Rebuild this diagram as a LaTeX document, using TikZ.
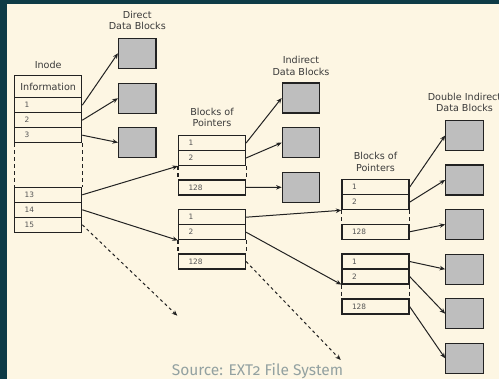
\documentclass[tikz,border=0pt]{standalone}
\usepackage{fontspec}
\usetikzlibrary{arrows.meta}
\newfontfamily\diagfont{DejaVu Sans}
\newfontfamily\captionfont[Numbers=OldStyle]{Fira Sans}
\definecolor{frame}{HTML}{0E3B46}
\definecolor{paper}{HTML}{FDF6E3}
\definecolor{ink}{HTML}{222222}
\definecolor{textink}{HTML}{3A3A3A}
\definecolor{numink}{HTML}{555555}
\definecolor{blockfill}{HTML}{BEBEBE}
\definecolor{srcink}{HTML}{93A1A1}
\begin{document}
\begin{tikzpicture}[x=1pt,y=-1pt,
  cell/.style={draw=ink, line width=1.2pt, minimum width=67pt, minimum height=15pt,
    inner xsep=10pt, inner ysep=0pt, text width=47pt, align=left,
    font=\diagfont\fontsize{7.4}{8}\selectfont, text=numink},
  infocell/.style={draw=ink, line width=1.2pt, minimum width=67pt, minimum height=22pt,
    inner sep=0pt, font=\diagfont\fontsize{9.6}{11.5}\selectfont, text=textink},
  datablock/.style={draw=ink, fill=blockfill, line width=1.2pt,
    minimum width=37.5pt, minimum height=30pt, inner sep=0pt},
  heading/.style={align=center, font=\diagfont\fontsize{9.6}{11.5}\selectfont,
    text=textink, inner sep=0pt},
  ptr/.style={draw=ink, line width=1pt, -{Stealth[length=5.5pt,width=4.5pt]}},
  gap/.style={draw=ink, line width=1.2pt, dash pattern=on 4pt off 3pt},
  openptr/.style={ptr, dash pattern=on 3pt off 3pt}
]
% page and frame
\fill[frame] (0,0) rectangle (499,379);
\fill[paper] (7,4) rectangle (499,379);
\useasboundingbox (0,0) rectangle (499,379);

% inode
\node[heading] (inodelbl) at (48.2,65) {Inode};
\node[infocell] (info) at (48.2,86.7) {Information};
\node[cell] (i1) at (48.2,105.2) {1};
\node[cell] (i2) at (48.2,120.2) {2};
\node[cell] (i3) at (48.2,135.2) {3};
\node[cell] (i13) at (48.2,194.8) {13};
\node[cell] (i14) at (48.2,209.8) {14};
\node[cell] (i15) at (48.2,224.8) {15};
\draw[gap] (i3.south west) -- (i13.north west);
\draw[gap] (i3.south east) -- (i13.north east);

% direct data blocks
\node[heading] (dirlbl) at (137.3,20.5) {Direct\\Data Blocks};
\node[datablock] (d1) at (137.3,53.3) {};
\node[datablock] (d2) at (137.3,98.3) {};
\node[datablock] (d3) at (137.3,142.5) {};

% single indirect: block of pointers
\node[heading] (bop1lbl) at (212,117.5) {Blocks of\\Pointers};
\node[cell] (a1) at (212,143) {1};
\node[cell] (a2) at (212,158) {2};
\node[cell] (a128) at (212,187.5) {128};
\draw[gap] (a2.south west) -- (a128.north west);
\draw[gap] (a2.south east) -- (a128.north east);

% double indirect: first-level block of pointers
\node[cell] (b1) at (212,217.2) {1};
\node[cell] (b2) at (212,232.2) {2};
\node[cell] (b128) at (212,261.5) {128};
\draw[gap] (b2.south west) -- (b128.north west);
\draw[gap] (b2.south east) -- (b128.north east);

% indirect data blocks
\node[heading] (indlbl) at (301,66) {Indirect\\Data Blocks};
\node[datablock] (n1) at (301,98) {};
\node[datablock] (n2) at (301,142.7) {};
\node[datablock] (n3) at (301,187.3) {};

% second-level blocks of pointers
\node[heading] (bop2lbl) at (375.5,162) {Blocks of\\Pointers};
\node[cell] (c1) at (375.5,187.2) {1};
\node[cell] (c2) at (375.5,202.2) {2};
\node[cell] (c128) at (375.5,231.8) {128};
\draw[gap] (c2.south west) -- (c128.north west);
\draw[gap] (c2.south east) -- (c128.north east);
\node[cell] (e1) at (375.5,261.5) {1};
\node[cell] (e2) at (375.5,276.5) {2};
\node[cell] (e128) at (375.5,306.5) {128};
\draw[gap] (e2.south west) -- (e128.north west);
\draw[gap] (e2.south east) -- (e128.north east);

% double indirect data blocks
\node[heading] (dbllbl) at (464.5,102.3) {Double Indirect\\Data Blocks};
\node[datablock] (m1) at (464.5,135.5) {};
\node[datablock] (m2) at (464.5,180) {};
\node[datablock] (m3) at (464.5,224.5) {};
\node[datablock] (m4) at (464.5,269.2) {};
\node[datablock] (m5) at (464.5,313.7) {};
\node[datablock] (m6) at (464.5,358.3) {};

% pointers
\draw[ptr] (i1.east) -- (d1.west);
\draw[ptr] (i2.east) -- (d2.west);
\draw[ptr] (i3.east) -- (d3.west);
\draw[ptr] (i13.east) -- (a2.south west);
\draw[ptr] (i14.east) -- (b2.south west);
\draw[ptr] (a1.east) -- (n1.west);
\draw[ptr] (a2.east) -- (n2.west);
\draw[ptr] (a128.east) -- (n3.west);
\draw[ptr] (b1.east) -- (c2.south west);
\draw[ptr] (b2.east) -- (e2.south west);
\draw[ptr] (c1.east) -- (m1.west);
\draw[ptr] (c2.east) -- (m2.west);
\draw[ptr] (c128.east) -- (m3.west);
\draw[ptr] (e1.east) -- (m4.west);
\draw[ptr] (e2.east) -- (m5.west);
\draw[ptr] (e128.east) -- (m6.west);

% triple indirect and the rest, left open
\coordinate (tripleend) at (177.3,315.7);
\coordinate (restend) at (340.7,360);
\draw[openptr] (i15.east) -- (tripleend);
\draw[openptr] (b128.east) -- (restend);

% source line
\node[font=\captionfont\fontsize{15.5}{18}\selectfont, text=srcink, inner sep=0pt]
  (source) at (257.5,371) {Source: EXT2 File System};
\end{tikzpicture}
\end{document}
